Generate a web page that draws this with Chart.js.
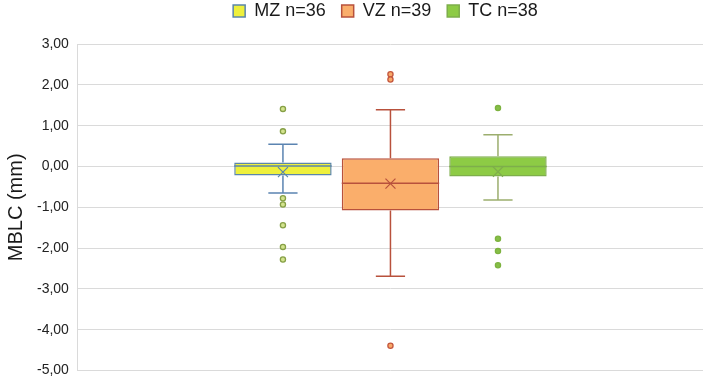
<!DOCTYPE html>
<html>
<head>
<meta charset="utf-8">
<script src="https://cdn.jsdelivr.net/npm/chart.js@4/dist/chart.umd.min.js"></script>
<style>
  html, body { margin: 0; padding: 0; background: #fff; }
  #wrap { width: 709px; height: 388px; position: relative; }
</style>
</head>
<body>
<div id="wrap"><canvas id="c" width="709" height="388"></canvas></div>
<script>
// ---- data ----
const categories = [''];
const seriesNames = ['MZ n=36', 'VZ n=39', 'TC n=38'];
const q1Values = [-0.22, -1.08, -0.245];
const q3Values = [0.10, 0.20, 0.25];
const medianValues = [0.01, -0.41, 0.00];
const meanValues = [-0.14, -0.42, -0.13];
const whiskerLow = [-0.65, -2.69, -0.82];
const whiskerHigh = [0.545, 1.39, 0.78];
const outliersMZ = [1.41, 0.86, -0.78, -0.93, -1.44, -1.97, -2.28];
const outliersVZ = [2.26, 2.13, -4.39];
const outliersTC = [1.43, -1.77, -2.07, -2.42];
const outlierSets = [outliersMZ, outliersVZ, outliersTC];
const yTicksMin = -5, yTicksMax = 3, yTickStep = 1;

// ---- styles ----
const fills = ['#EEF03C', '#FAAE6B', '#8DCB45'];
const borders = ['#5B86AA', '#B8513C', '#7EAE4B'];
const whiskerColors = ['#5B84B1', '#B8513C', '#9CAE6E'];
const outFill = ['#D3E38E', '#F8A868', '#86BF47'];
const outStroke = ['#86A046', '#C4573E', '#7DB23F'];

const datasets = seriesNames.map((name, i) => ({
  label: name,
  data: [[q1Values[i], q3Values[i]]],
  backgroundColor: fills[i],
  borderColor: borders[i],
  borderWidth: 1.5,
  borderSkipped: false,
  categoryPercentage: 0.516,
  barPercentage: 0.906
}));

const legendPlace = {
  id: 'legendPlace',
  afterLayout(chart) {
    const lg = chart.legend;
    lg.left = chart.chartArea.left - 10;
    lg.right = chart.chartArea.right;
    lg.top -= 14;
    lg.bottom -= 14;
  }
};

const boxExtras = {
  id: 'boxExtras',
  afterDatasetsDraw(chart) {
    const ctx = chart.ctx;
    const y = chart.scales.y;
    ctx.save();
    chart.data.datasets.forEach((ds, i) => {
      const meta = chart.getDatasetMeta(i);
      const bar = meta.data[0];
      const x = bar.x;
      const w = bar.width;
      const cap = w * 0.3;
      ctx.strokeStyle = whiskerColors[i];
      ctx.lineWidth = 1.5;
      ctx.beginPath();
      ctx.moveTo(x, y.getPixelForValue(q3Values[i]));
      ctx.lineTo(x, y.getPixelForValue(whiskerHigh[i]));
      ctx.moveTo(x, y.getPixelForValue(q1Values[i]));
      ctx.lineTo(x, y.getPixelForValue(whiskerLow[i]));
      ctx.moveTo(x - cap / 2, y.getPixelForValue(whiskerHigh[i]));
      ctx.lineTo(x + cap / 2, y.getPixelForValue(whiskerHigh[i]));
      ctx.moveTo(x - cap / 2, y.getPixelForValue(whiskerLow[i]));
      ctx.lineTo(x + cap / 2, y.getPixelForValue(whiskerLow[i]));
      ctx.stroke();
      ctx.strokeStyle = borders[i];
      ctx.beginPath();
      const my = y.getPixelForValue(medianValues[i]);
      ctx.moveTo(x - w / 2, my);
      ctx.lineTo(x + w / 2, my);
      ctx.stroke();
      const mny = y.getPixelForValue(meanValues[i]);
      const s = 5;
      ctx.lineWidth = 1.2;
      ctx.beginPath();
      ctx.moveTo(x - s, mny - s); ctx.lineTo(x + s, mny + s);
      ctx.moveTo(x + s, mny - s); ctx.lineTo(x - s, mny + s);
      ctx.stroke();
      outlierSets[i].forEach(v => {
        const oy = y.getPixelForValue(v);
        ctx.beginPath();
        ctx.arc(x, oy, 2.6, 0, Math.PI * 2);
        ctx.fillStyle = outFill[i];
        ctx.fill();
        ctx.lineWidth = 1.3;
        ctx.strokeStyle = outStroke[i];
        ctx.stroke();
      });
    });
    ctx.restore();
  }
};

new Chart(document.getElementById('c'), {
  type: 'bar',
  data: { labels: categories, datasets },
  options: {
    responsive: false,
    animation: false,
    layout: { padding: { left: 0, right: 6, top: 0, bottom: 11 } },
    plugins: {
      legend: {
        position: 'top',
        labels: {
          boxWidth: 12, boxHeight: 12, padding: 16,
          color: '#1a1a1a',
          font: { family: 'Liberation Sans', size: 18 }
        }
      },
      tooltip: { enabled: false }
    },
    scales: {
      x: { display: false },
      y: {
        min: yTicksMin, max: yTicksMax,
        ticks: {
          stepSize: yTickStep,
          padding: 9,
          color: '#222',
          font: { family: 'Liberation Sans', size: 14 },
          callback: v => v.toFixed(2).replace('.', ',')
        },
        grid: { color: '#DADADA', lineWidth: 1, drawTicks: false },
        border: { color: '#DADADA' },
        title: {
          display: true, text: 'MBLC (mm)', color: '#1a1a1a',
          font: { family: 'Liberation Sans', size: 20 }, padding: { top: 4, bottom: 0 }
        }
      }
    }
  },
  plugins: [legendPlace, boxExtras]
});
</script>
</body>
</html>
